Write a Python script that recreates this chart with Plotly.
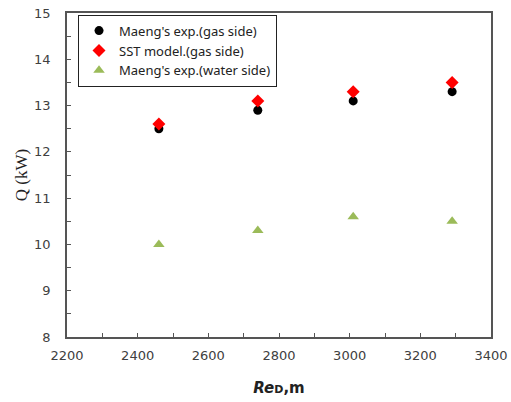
import plotly.graph_objects as go

re_vals = [2460, 2740, 3010, 3290]
gas_exp = [12.5, 12.9, 13.1, 13.3]
sst_model = [12.6, 13.1, 13.3, 13.5]
water_exp = [10.0, 10.3, 10.6, 10.5]

fig = go.Figure()
fig.add_trace(go.Scatter(x=re_vals, y=gas_exp, mode="markers", name="Maeng's exp.(gas side)",
                         marker=dict(symbol="circle", size=9, color="black")))
fig.add_trace(go.Scatter(x=re_vals, y=sst_model, mode="markers", name="SST model.(gas side)",
                         marker=dict(symbol="diamond", size=10, color="#ff0000")))
fig.add_trace(go.Scatter(x=re_vals, y=water_exp, mode="markers", name="Maeng's exp.(water side)",
                         marker=dict(symbol="triangle-up", size=10, color="#9bbb59")))

axis_common = dict(showline=True, linecolor="#555555", linewidth=1.5, mirror=True,
                   showgrid=False, zeroline=False, ticks="inside", ticklen=4,
                   tickcolor="#555555", automargin=False,
                   tickfont=dict(family="DejaVu Sans", size=13, color="#404040"))

fig.update_xaxes(range=[2200, 3400], dtick=200, **axis_common, ticklabelstandoff=6,
                 minor=dict(ticks="inside", ticklen=4, dtick=100, tickcolor="#555555"),
                 title=dict(text="<b><i>Re</i></b><b><span style='font-size:11px'>D</span>,m</b>",
                            font=dict(family="DejaVu Sans", size=15, color="#222222"),
                            standoff=20))
fig.update_yaxes(range=[8, 15], dtick=1, **axis_common, ticklabelstandoff=12,
                 minor=dict(ticks="inside", ticklen=4, dtick=0.5, tickcolor="#555555"),
                 title=dict(text="Q (kW)", font=dict(family="Liberation Serif", size=17, color="#222222"),
                            standoff=2))

fig.update_layout(
    width=511, height=402,
    margin=dict(l=67, r=20, t=13, b=65),
    plot_bgcolor="white", paper_bgcolor="white",
    showlegend=True,
    legend=dict(x=0.026, y=0.995, xanchor="left", yanchor="top",
                bordercolor="#222222", borderwidth=1, bgcolor="white",
                font=dict(family="Noto Sans", size=13, color="#222222"),
                itemwidth=30, tracegroupgap=0),
)

fig.write_html("out.html", config={"displayModeBar": False},
               post_script="document.body.style.margin='0';")
